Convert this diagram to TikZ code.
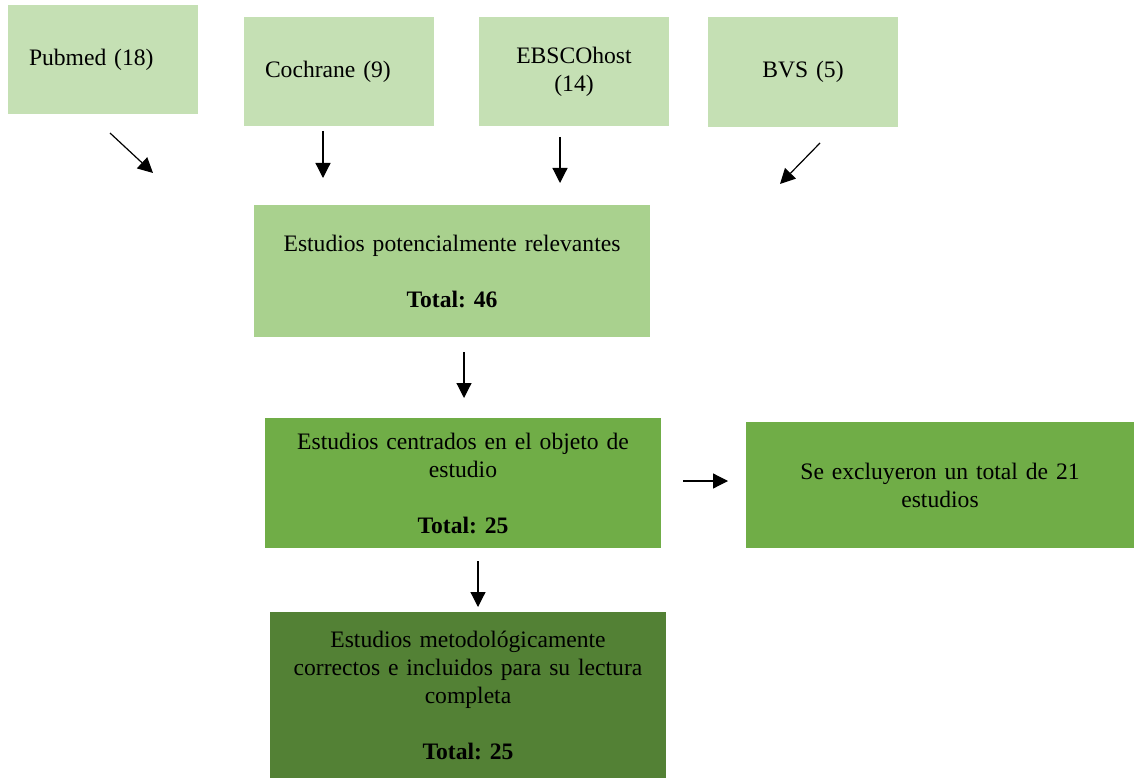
\documentclass[tikz,border=0pt]{standalone}
\usepackage{fontspec}
\setmainfont{Liberation Serif}
\usetikzlibrary{arrows.meta}
\definecolor{gA}{HTML}{C5E0B4}
\definecolor{gB}{HTML}{A9D18E}
\definecolor{gC}{HTML}{70AD47}
\definecolor{gD}{HTML}{538135}
\frenchspacing
\tikzset{
  x=1pt,y=-1pt,
  box/.style={rectangle,inner ysep=0pt,inner xsep=21pt,
    font=\fontsize{23.6}{28}\selectfont\frenchspacing,text=black},
  arr/.style={line width=1.2pt,-{Triangle[length=15pt,width=15pt]}}
}
\begin{document}
\begin{tikzpicture}
\useasboundingbox (0,0) rectangle (1135,778);
% source boxes
\node[box,fill=gA,text width=148pt,minimum height=109pt,align=left] (pub) at (103,59.5) {Pubmed (18)};
\node[box,fill=gA,text width=148pt,minimum height=109pt,align=left] (coc) at (339,71.5) {Cochrane (9)};
\node[box,fill=gA,text width=148pt,minimum height=109pt,align=center] (ebs) at (574,71.5) {EBSCOhost\\(14)};
\node[box,fill=gA,text width=148pt,minimum height=110pt,align=center] (bvs) at (803,72) {BVS (5)};
% main chain
\node[box,fill=gB,text width=354pt,minimum height=132pt,align=center] (rel) at (452,271)
  {Estudios potencialmente relevantes\\[28pt]\textbf{Total: 46}};
\node[box,fill=gC,text width=354pt,minimum height=130pt,align=center] (cen) at (463,483)
  {Estudios centrados en el objeto de\\estudio\\[28pt]\textbf{Total: 25}};
\node[box,fill=gC,text width=346pt,minimum height=126pt,align=center] (exc) at (940,485)
  {Se excluyeron un total de 21\\estudios};
\node[box,fill=gD,text width=354pt,minimum height=166pt,align=center] (met) at (468,695)
  {Estudios metodológicamente\\correctos e incluidos para su lectura\\completa\\[28pt]\textbf{Total: 25}};
% arrow end points
\coordinate (a1s) at (110,133); \coordinate (a1e) at (153,173);
\coordinate (a2s) at (323,131); \coordinate (a2e) at (323,178);
\coordinate (a3s) at (560,137); \coordinate (a3e) at (560,183);
\coordinate (a4s) at (820,143); \coordinate (a4e) at (780,184);
\coordinate (a5s) at (464,352); \coordinate (a5e) at (464,398);
\coordinate (a6s) at (683,481); \coordinate (a6e) at (728,481);
\coordinate (a7s) at (478,561); \coordinate (a7e) at (478,607);
\draw[arr] (a1s) -- (a1e);
\draw[arr] (a2s) -- (a2e);
\draw[arr] (a3s) -- (a3e);
\draw[arr] (a4s) -- (a4e);
\draw[arr] (a5s) -- (a5e);
\draw[arr] (a6s) -- (a6e);
\draw[arr] (a7s) -- (a7e);
\end{tikzpicture}
\end{document}
